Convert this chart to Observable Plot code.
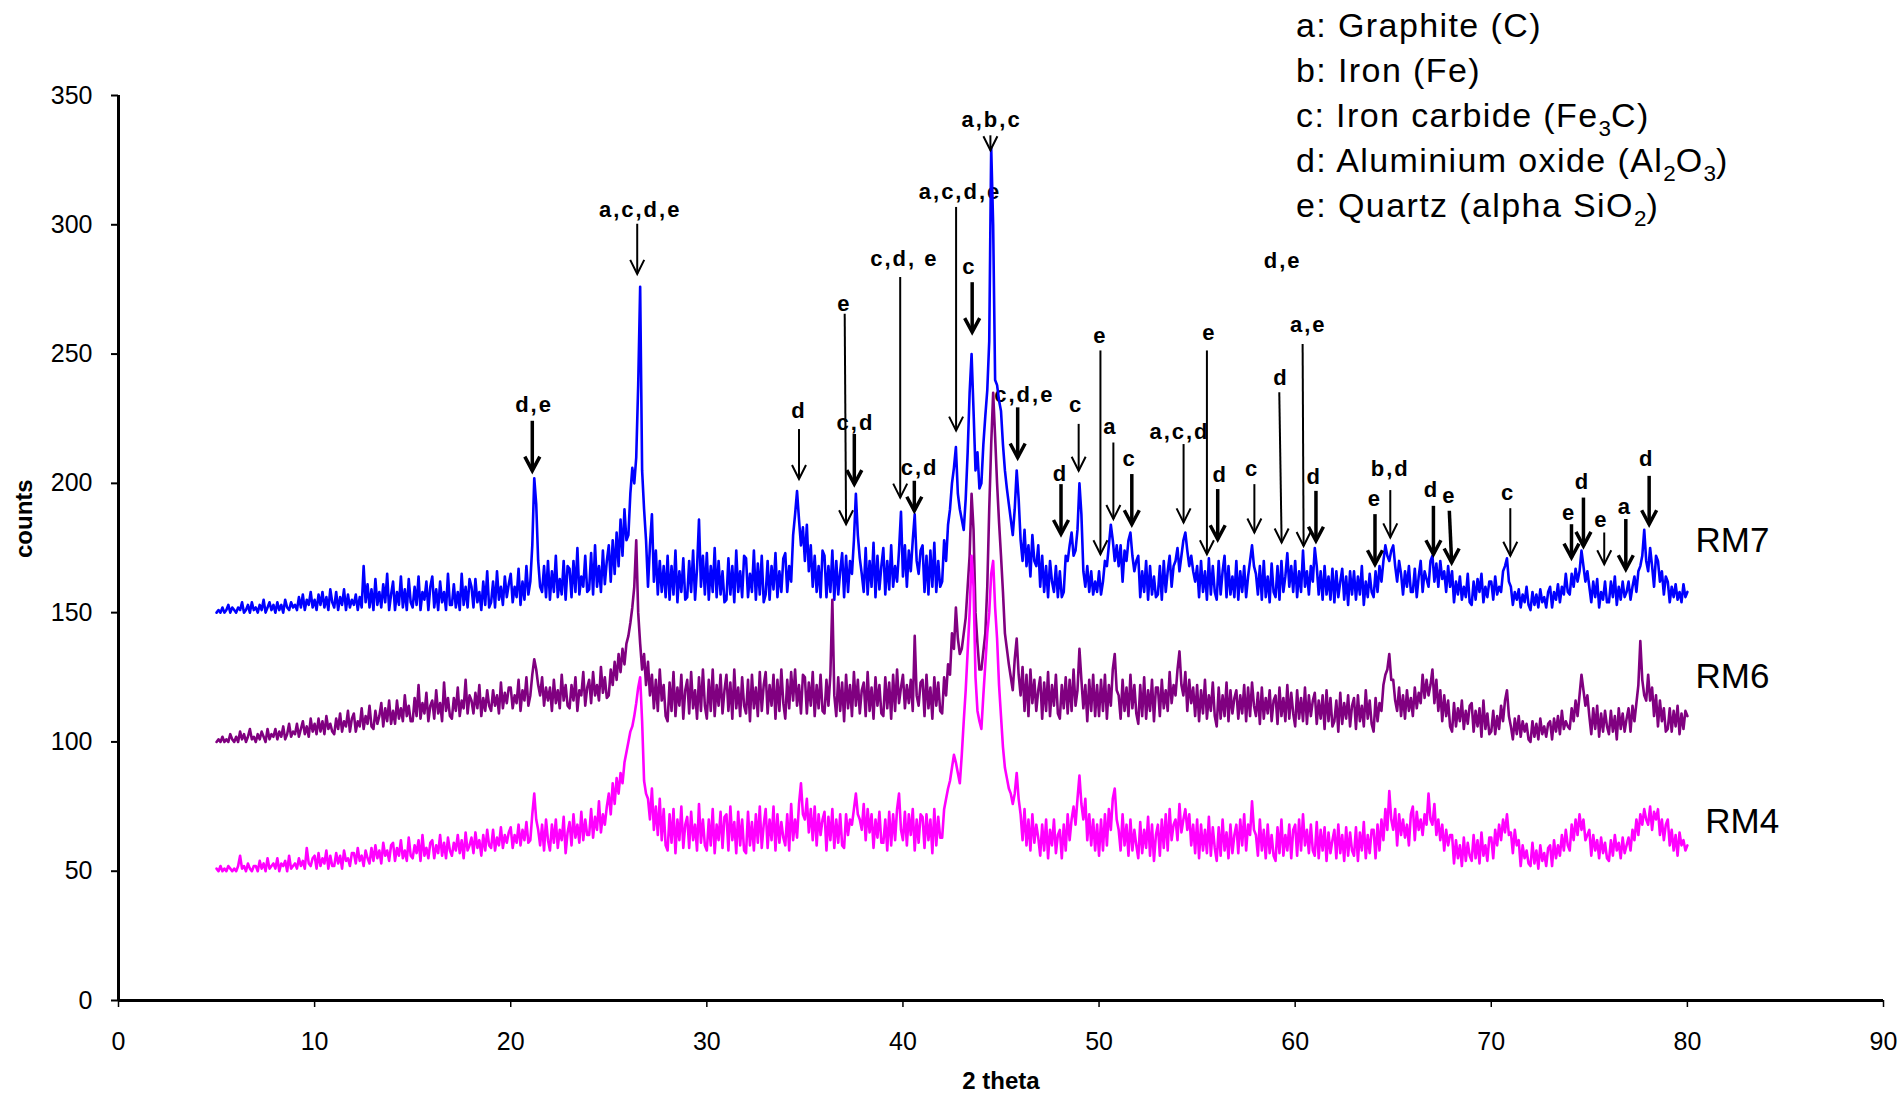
<!DOCTYPE html>
<html>
<head>
<meta charset="utf-8">
<script src="https://cdn.jsdelivr.net/npm/d3@7"></script>
<script src="https://cdn.jsdelivr.net/npm/@observablehq/plot@0.6"></script>
<style>
html, body { margin: 0; padding: 0; background: #fff; }
#wrap { position: relative; width: 1900px; height: 1094px; overflow: hidden; font-family: "Liberation Sans", Arial, Helvetica, sans-serif; }
#chart { position: absolute; left: 0; top: 0; }
#legend { position: absolute; left: 1296px; top: 3px; font-size: 34px; line-height: 45px; letter-spacing: 1.4px; color: #000; white-space: nowrap; }
#legend sub { font-size: 0.66em; vertical-align: -0.38em; line-height: 0; letter-spacing: 0; }
</style>
</head>
<body>
<div id="wrap">
  <div id="chart"></div>
  <div id="legend">
    <div>a: Graphite (C)</div>
    <div>b: Iron (Fe)</div>
    <div>c: Iron carbide (Fe<sub>3</sub>C)</div>
    <div>d: Aluminium oxide (Al<sub>2</sub>O<sub>3</sub>)</div>
    <div>e: Quartz (alpha SiO<sub>2</sub>)</div>
  </div>
</div>
<script>
// ---- sampling of the 2-theta axis ----
const thetaStart = 5.0;
const thetaStep = 0.1;

// ---- diffractogram counts (one value per 0.1 deg, 5..80) ----
const RM7 = [
150,151,150,152,150,151,153,150,152,151, 150,152,151,154,150,151,153,150,154,151,
152,150,153,151,155,150,152,154,151,153, 150,154,151,153,150,155,152,151,154,152,
153,151,156,152,157,151,155,153,158,152, 155,151,157,153,158,152,156,151,159,154,
152,158,151,156,153,159,151,157,152,155, 153,157,151,156,152,168,154,161,152,159,
151,163,153,158,152,161,154,165,151,157, 162,151,158,153,164,152,159,151,163,154,
152,160,153,164,151,158,155,162,151,160, 164,152,159,151,162,154,158,151,165,153,
153,161,152,158,151,165,153,160,152,163, 160,152,163,154,158,151,162,153,166,152,
154,162,152,166,155,160,153,164,156,161, 165,154,160,156,167,153,162,155,168,157,
162,176,202,192,170,160,158,168,156,170, 155,166,158,172,156,163,157,170,155,168,
167,156,170,158,175,157,164,160,172,158, 159,173,157,176,160,168,158,174,161,170,
176,162,178,165,181,168,186,172,190,178, 180,196,206,200,210,238,276,205,190,178,
160,176,188,162,174,157,170,158,168,156, 172,155,168,157,174,154,166,158,171,155,
156,170,158,174,155,167,186,160,172,157, 173,155,168,158,175,156,170,157,166,154,
155,171,157,168,154,174,158,166,156,172, 171,156,165,158,174,155,169,157,172,154,
157,170,155,168,159,173,156,166,158,171, 173,158,168,162,180,188,197,186,176,183,
170,184,166,176,160,172,158,168,156,174, 172,156,168,158,174,155,170,157,166,173,
156,172,158,170,165,178,196,180,171,165, 158,175,157,170,160,177,156,172,159,168,
175,157,170,159,176,160,168,162,174,189, 164,176,160,174,166,178,188,170,165,174,
176,158,172,157,174,160,177,158,170,160, 162,178,170,184,190,200,206,214,196,190,
186,182,194,212,235,250,228,205,212,198, 200,215,226,236,255,330,300,240,238,232,
228,215,205,198,192,186,180,190,205,194, 178,170,182,168,176,164,180,170,168,176,
160,172,158,168,156,170,162,158,168,156, 166,156,158,172,170,176,181,172,174,182,
200,188,166,160,168,158,166,157,162,158, 166,157,162,170,168,176,184,178,170,176,
168,176,162,174,170,178,181,172,166,170, 172,156,166,158,170,155,168,157,164,156,
157,168,155,170,158,166,172,160,168,170, 175,166,172,178,181,174,168,172,166,162,
168,156,170,158,166,155,171,157,168,158, 155,170,157,166,172,156,168,157,164,156,
170,155,166,158,168,156,164,170,176,168, 165,157,168,155,170,156,164,154,169,158,
156,168,155,170,158,164,173,160,168,158, 170,156,166,158,174,160,166,157,168,162,
175,168,157,166,155,168,157,164,155,167, 154,166,156,162,167,155,164,153,166,157,
166,155,164,157,168,153,162,156,165,158, 156,166,158,168,162,170,176,172,170,174,
176,168,162,170,165,157,166,160,168,158, 158,167,156,164,170,158,166,163,160,170,
172,162,169,160,170,163,166,158,168,160, 166,154,162,157,164,155,160,156,165,154,
153,162,155,163,158,165,154,160,156,162, 162,155,164,157,160,158,166,168,171,162,
160,153,158,155,159,152,157,154,160,153, 151,158,153,157,152,159,154,156,152,158,
160,152,158,155,161,154,160,157,165,158, 157,165,160,167,162,166,174,168,162,166,
160,154,162,156,163,152,158,155,162,154, 154,162,156,164,153,160,155,162,156,158,
162,155,160,164,158,166,168,172,182,170, 166,175,168,160,172,170,162,166,157,164,
162,154,160,156,161,155,158,154,161,156,
158
];

const RM6 = [
100,101,100,102,100,101,100,103,101,100, 102,100,104,101,103,100,102,105,101,102,
100,103,101,104,102,100,105,101,103,102, 105,101,104,102,106,101,103,107,102,104,
103,107,102,105,108,103,106,102,109,104, 107,103,109,104,108,103,110,105,107,104,
103,109,105,111,104,108,106,112,104,109, 111,104,108,106,113,105,110,107,114,106,
105,112,107,110,115,106,113,108,116,107, 112,107,116,109,113,108,118,110,114,108,
108,117,110,122,109,115,111,119,108,114, 116,109,120,111,115,108,123,112,117,110,
109,117,112,121,110,116,113,124,111,118, 116,111,119,113,122,110,117,112,120,114,
112,120,114,118,111,123,113,119,115,121, 121,113,118,115,124,112,120,116,125,114,
118,126,132,128,122,118,125,114,121,116, 121,112,124,115,120,113,126,116,122,114,
113,122,116,125,112,120,118,127,114,121, 124,115,127,118,122,116,129,119,125,117,
118,128,122,131,124,134,127,136,130,138, 141,146,152,160,178,150,138,128,134,122,
131,118,126,113,124,112,128,116,122,110, 108,123,112,127,110,121,114,126,109,120,
124,111,127,113,120,109,125,112,128,114, 109,124,112,128,110,122,114,126,111,120,
126,112,123,109,128,113,121,110,125,114, 111,124,108,126,113,121,110,127,112,122,
127,111,122,114,126,109,124,112,128,115, 109,124,113,127,116,128,114,122,111,126,
125,111,123,114,127,110,122,113,126,112, 111,124,114,126,155,118,110,125,112,123,
108,126,113,122,110,127,114,124,111,120, 123,110,127,112,121,109,125,114,122,111,
110,125,113,123,109,126,112,128,115,121, 126,113,122,115,124,112,141,118,114,123,
124,110,126,113,121,109,125,114,123,112, 111,125,118,130,126,142,136,152,140,134,
136,142,148,160,172,196,182,150,138,128, 128,135,142,160,190,215,235,218,200,185,
172,158,142,136,130,125,120,132,140,126, 118,129,112,126,110,128,115,124,112,120,
125,109,123,112,127,110,122,114,126,111, 109,122,113,125,111,124,112,128,114,120,
136,124,113,122,108,124,112,126,110,122, 110,124,112,126,109,122,114,128,134,120,
118,109,124,112,121,110,126,113,122,111, 107,122,110,125,109,120,112,124,108,121,
121,110,124,113,120,112,127,115,122,118, 128,135,122,118,127,112,124,115,121,110,
122,108,120,111,124,109,118,112,123,110, 106,121,109,118,110,123,108,120,111,117,
120,109,118,111,122,108,121,110,123,114, 110,119,107,121,109,117,111,120,108,116,
118,107,121,110,117,108,122,109,119,111, 106,120,109,117,108,121,107,118,110,116,
119,107,116,109,118,105,120,108,117,106, 108,116,104,119,107,115,109,118,106,114,
117,105,118,108,114,106,120,109,116,107, 104,117,108,115,112,122,126,128,134,124,
124,116,112,121,110,118,109,120,112,117, 110,121,113,119,115,126,117,124,118,122,
128,115,124,112,120,108,118,110,116,106, 104,115,106,113,108,116,105,112,107,114,
115,104,112,106,113,102,116,105,111,103, 104,112,103,110,105,114,108,116,120,110,
106,101,109,103,110,102,108,104,107,101, 100,108,102,107,101,109,103,106,102,107,
108,101,109,104,110,103,112,105,108,106, 105,113,108,116,110,118,126,120,114,118,
110,103,113,105,114,102,111,104,112,106, 103,112,104,110,101,113,105,111,104,109,
113,104,114,108,115,122,139,124,118,116, 126,116,121,110,118,106,116,108,113,104,
105,113,104,112,106,114,103,111,105,112,
110
];

const RM4 = [
51,50,52,50,51,50,52,51,50,51, 50,52,56,51,52,50,53,51,50,52,
52,50,54,51,53,50,55,51,52,53, 51,55,50,53,52,54,50,56,51,52,
53,51,55,52,54,51,59,53,52,55, 56,51,57,52,55,53,58,51,56,52,
52,57,53,56,51,58,54,55,52,57, 57,53,59,54,56,52,58,55,53,59,
54,60,55,58,53,61,56,58,54,60, 61,54,59,56,62,55,58,54,63,56,
55,60,57,62,54,64,56,59,55,61, 62,55,60,57,64,56,61,55,63,58,
56,61,58,64,57,62,55,65,58,60, 63,57,65,59,62,56,64,58,66,60,
59,66,58,63,60,67,59,64,61,65, 67,59,64,61,68,60,66,62,69,61,
62,72,80,70,66,60,68,58,70,62, 58,68,61,70,59,66,62,71,57,65,
69,60,72,63,68,61,73,62,70,64, 64,74,63,71,66,77,65,72,68,75,
80,72,84,76,86,80,88,84,92,96, 100,104,106,110,115,121,125,108,85,80,
78,70,82,66,75,64,78,62,74,60, 58,72,61,74,57,70,62,75,59,68,
71,59,73,62,68,58,76,61,70,60, 58,70,60,74,57,68,62,73,59,71,
72,58,75,62,69,57,73,60,70,58, 57,73,60,69,58,72,61,75,59,68,
74,59,70,62,75,58,72,61,69,63, 60,72,58,76,62,70,63,76,84,72,
70,78,65,74,62,75,60,72,64,70, 73,58,71,62,74,59,70,61,72,60,
59,72,64,70,68,74,80,72,70,66, 76,62,74,65,72,59,70,63,73,61,
61,70,58,73,60,72,62,74,80,66, 62,73,60,72,64,74,58,70,61,72,
71,59,72,62,70,57,74,60,71,63, 63,74,78,82,85,90,95,92,88,84,
95,108,120,135,150,172,160,125,112,108, 105,118,130,142,150,165,170,152,140,122,
110,98,90,86,82,80,76,80,88,78, 72,62,74,60,70,58,72,61,68,63,
56,68,58,70,55,66,60,70,57,64, 66,55,68,58,72,62,70,75,68,78,
87,76,70,78,62,72,60,70,58,68, 56,70,58,72,60,74,66,78,82,70,
66,58,72,60,68,56,70,58,66,60, 55,69,57,66,59,71,56,68,54,64,
68,56,70,59,72,58,74,62,68,70, 62,76,65,70,74,66,72,60,68,57,
70,55,68,58,66,57,71,56,67,59, 54,67,56,70,58,65,55,68,57,64,
68,57,70,60,72,58,68,64,77,66, 64,56,70,58,66,55,68,57,64,56,
54,67,57,70,56,64,58,68,55,66, 68,56,70,58,72,60,66,57,68,58,
56,69,55,66,58,67,54,65,57,62, 66,55,68,57,64,54,67,56,65,58,
56,67,54,65,58,69,55,64,57,66, 66,55,68,58,70,62,74,66,81,70,
66,74,60,72,64,70,63,68,60,72, 75,62,73,66,70,64,72,68,80,70,
68,76,64,70,62,68,58,66,60,64, 64,53,62,55,60,52,63,54,61,56,
54,64,55,62,53,65,56,60,54,63, 63,55,66,60,68,62,70,65,72,64,
65,57,66,60,62,52,60,55,58,53, 52,61,53,58,51,60,54,57,52,59,
60,52,62,55,60,56,64,58,66,60, 58,68,62,70,64,72,66,70,62,64,
66,56,64,58,62,55,63,57,61,55, 54,62,56,64,58,61,55,63,57,60,
63,58,66,62,70,64,72,68,74,70, 68,75,66,73,70,74,64,70,62,68,
70,60,66,58,64,56,65,60,62,58,
60
];

// ---- axes ----
const xTicks = [0, 10, 20, 30, 40, 50, 60, 70, 80, 90];
const yTicks = [0, 50, 100, 150, 200, 250, 300, 350];

// ---- sample names ----
const sampleNames = ["RM7", "RM6", "RM4"];
const sampleColors = ["#0000ff", "#800080", "#ff00ff"];
const sampleNameX = [82.3, 82.3, 82.8];
const sampleNameY = [177.6, 125.0, 69.2];

// ---- peak labels ----
const peakLabels = ["d,e","a,c,d,e","d","e","c,d","c,d, e","c,d","a,c,d,e","c","a,b,c","c,d,e","d","c","e","a","c","a,c,d","e","d","c","d,e","d","a,e","d","e","b,d","d","e","c","e","d","e","a","d"];
const peakLabelX = [21.19,26.60,34.70,37.01,37.58,40.07,40.85,42.91,43.39,44.52,46.19,48.03,48.83,50.07,50.58,51.56,54.10,55.63,56.18,57.80,59.36,59.27,60.67,60.97,64.07,64.85,66.95,67.86,70.86,73.97,74.65,75.62,76.81,77.93];
const peakLabelY = [230.4,305.6,228.1,269.4,223.2,286.9,205.9,312.7,283.6,340.7,234.3,203.6,230.3,257.2,221.7,209.4,219.7,258.1,203.3,205.5,286.2,240.8,261.4,202.6,193.9,205.5,197.4,195.2,196.1,188.7,200.4,185.8,190.9,209.4];

// ---- arrows (top point, tip point, heavy stroke flag) ----
const arrowTopX = [21.10,26.45,34.70,37.03,37.52,39.86,40.58,42.71,43.53,44.46,45.85,48.06,48.96,50.07,50.73,51.67,54.31,55.50,56.05,57.92,59.19,60.38,61.06,64.07,64.85,67.05,67.86,70.97,74.09,74.70,75.76,76.86,78.05];
const arrowTopY = [224.2,300.4,221.0,265.6,219.1,279.8,201.0,306.9,277.8,334.6,229.4,199.7,223.0,251.4,215.8,203.6,215.2,251.4,197.8,199.7,235.2,253.9,197.1,188.1,197.4,191.3,189.4,190.4,184.2,194.5,181.0,186.2,202.9];
const arrowTipX = [21.10,26.45,34.70,37.10,37.52,39.86,40.58,42.71,43.53,44.46,45.85,48.06,48.96,50.07,50.73,51.67,54.31,55.50,56.05,57.92,59.31,60.43,61.06,64.07,64.85,67.05,67.98,70.97,74.09,74.70,75.76,76.86,78.05];
const arrowTipY = [204.9,281.0,201.7,184.2,199.7,194.5,189.4,220.4,258.5,328.8,210.0,180.4,204.9,172.6,186.2,184.2,184.9,172.6,178.4,181.0,177.1,175.8,177.8,168.7,179.1,172.6,169.4,172.0,171.3,175.8,168.7,166.8,184.2];
const arrowHeavy = [1,0,0,0,1,0,1,0,1,0,1,1,0,0,0,1,0,0,1,0,0,0,1,1,0,1,1,0,1,1,0,1,1];

// ---- build ----
const theta = RM7.map((_, i) => Math.round((thetaStart + i * thetaStep) * 10) / 10);
const series = [RM7, RM6, RM4];

const thinIdx = arrowHeavy.map((h, i) => (h ? -1 : i)).filter(i => i >= 0);
const heavyIdx = arrowHeavy.map((h, i) => (h ? i : -1)).filter(i => i >= 0);

// open "V" arrow head, tip at the anchor point
const vHead = { draw(ctx) { ctx.moveTo(-7, -14); ctx.lineTo(0, 0); ctx.lineTo(7, -14); } };
const vHeadHeavy = { draw(ctx) { ctx.moveTo(-7.5, -14); ctx.lineTo(0, 0); ctx.lineTo(7.5, -14); } };

const stems = (idx, sw) => Plot.link(idx, {
  x1: i => arrowTopX[i], y1: i => arrowTopY[i],
  x2: i => arrowTipX[i], y2: i => arrowTipY[i],
  stroke: "#000", strokeWidth: sw
});
const heads = (idx, sym, sw) => Plot.dot(idx, {
  x: i => arrowTipX[i], y: i => arrowTipY[i],
  symbol: sym, fill: "none", stroke: "#000", strokeWidth: sw, r: 4
});

const chart = Plot.plot({
  width: 1900,
  height: 1094,
  marginLeft: 118,
  marginRight: 17,
  marginTop: 95,
  marginBottom: 94,
  style: { fontFamily: "'Liberation Sans', Arial, Helvetica, sans-serif", background: "#fff", color: "#000" },
  x: { domain: [0, 90] },
  y: { domain: [0, 350] },
  marks: [
    Plot.axisX({ ticks: xTicks, tickSize: 7, tickPadding: 25, fontSize: 25, label: null, strokeWidth: 1.5 }),
    Plot.axisY({ ticks: yTicks, tickSize: 7, tickPadding: 19, fontSize: 25, label: null, strokeWidth: 2 }),
    Plot.ruleX([0], { stroke: "#000", strokeWidth: 3 }),
    Plot.ruleY([0], { stroke: "#000", strokeWidth: 3 }),
    Plot.text(peakLabels, { x: peakLabelX, y: peakLabelY, text: d => d, fontWeight: "bold", fontSize: 22, fill: "#000" }),
    ...series.map((s, k) => Plot.line(s, { x: theta, y: d => d, stroke: sampleColors[k], strokeWidth: 2.6 })),
    stems(thinIdx, 2),
    stems(heavyIdx, 3.5),
    heads(thinIdx, vHead, 2),
    heads(heavyIdx, vHeadHeavy, 3.5),
    Plot.text(sampleNames, { x: sampleNameX, y: sampleNameY, text: d => d, fontSize: 35, fill: "#000" }),
    Plot.text(["counts"], { frameAnchor: "left", text: d => d, rotate: -90, dx: -94, dy: 10, fontWeight: "bold", fontSize: 24, fill: "#000" }),
    Plot.text(["2 theta"], { frameAnchor: "bottom", text: d => d, dy: 88, fontWeight: "bold", fontSize: 24, fill: "#000" })
  ]
});

// wider tracking for the peak labels, as in the original figure
chart.querySelectorAll("g").forEach(g => {
  if (g.getAttribute("font-size") === "22" && g.getAttribute("font-weight") === "bold") {
    g.setAttribute("letter-spacing", "2px");
  }
});

document.getElementById("chart").appendChild(chart);
</script>
</body>
</html>
